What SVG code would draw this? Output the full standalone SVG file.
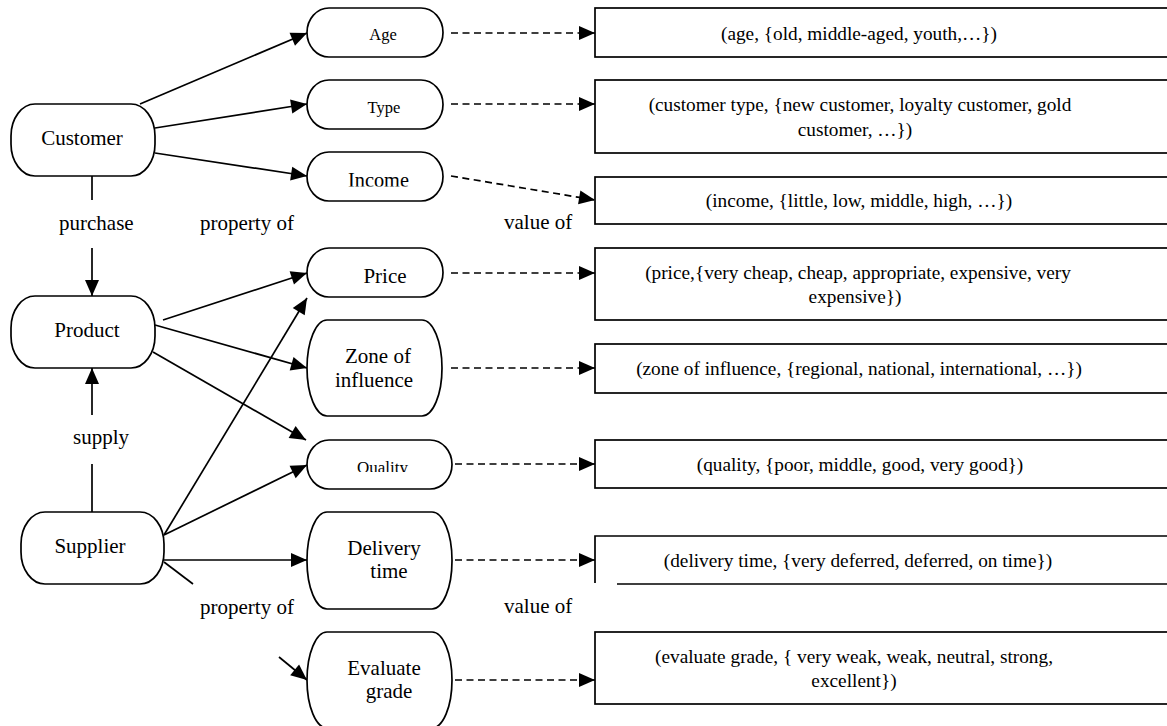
<svg xmlns="http://www.w3.org/2000/svg" width="1167" height="726" viewBox="0 0 1167 726">
<style>
text{font-family:"Liberation Serif","Times New Roman",serif;fill:#000}
.n{fill:#fff;stroke:#000;stroke-width:1.7}
.lbl{font-size:21px}
.sm{font-size:16.5px}
.val{font-size:19.3px;text-anchor:middle}
.c{text-anchor:middle}
.ln{fill:none;stroke:#000;stroke-width:1.7}
.arr{marker-end:url(#ah)}
.dash{stroke-dasharray:7 4.5}
</style>
<defs>
<marker id="ah" markerUnits="userSpaceOnUse" markerWidth="16" markerHeight="14" refX="16" refY="7" orient="auto" overflow="visible">
<path d="M0,0 L16,7 L0,14 Z" fill="#000" stroke="none"/>
</marker>
<clipPath id="clipInc"><rect x="300" y="150" width="150" height="36.5"/></clipPath>
<clipPath id="clipQual"><rect x="300" y="438" width="160" height="34"/></clipPath>
</defs>

<g id="connectors">
<line class="ln arr" x1="140" y1="104" x2="307" y2="33"/>
<line class="ln arr" x1="155" y1="128" x2="307" y2="104"/>
<line class="ln arr" x1="155" y1="153" x2="307" y2="176"/>
<line class="ln" x1="92" y1="176" x2="92" y2="200"/>
<line class="ln arr" x1="92" y1="248" x2="92" y2="296"/>
<line class="ln arr" x1="92" y1="415" x2="92" y2="368"/>
<line class="ln" x1="92" y1="464" x2="92" y2="512"/>
<line class="ln arr" x1="163" y1="320" x2="307" y2="273"/>
<line class="ln arr" x1="155" y1="325" x2="307" y2="368"/>
<line class="ln arr" x1="153" y1="352" x2="306" y2="440"/>
<line class="ln arr" x1="164" y1="535" x2="307" y2="298"/>
<line class="ln arr" x1="164" y1="535" x2="307" y2="465"/>
<line class="ln arr" x1="164" y1="560" x2="307" y2="560"/>
<line class="ln" x1="164" y1="562" x2="193" y2="584"/>
<line class="ln arr" x1="279" y1="657" x2="307" y2="680"/>
<line class="ln arr dash" x1="451" y1="33" x2="595" y2="33"/>
<line class="ln arr dash" x1="451" y1="104" x2="595" y2="104"/>
<line class="ln arr dash" x1="451" y1="176" x2="595" y2="200"/>
<line class="ln arr dash" x1="451" y1="273" x2="595" y2="273"/>
<line class="ln arr dash" x1="451" y1="368" x2="595" y2="368"/>
<line class="ln arr dash" x1="455" y1="464" x2="595" y2="464"/>
<line class="ln arr dash" x1="455" y1="560" x2="595" y2="560"/>
<line class="ln arr dash" x1="455" y1="680" x2="595" y2="680"/>
<text class="lbl" x="59" y="230">purchase</text>
<text class="lbl" x="200" y="230">property of</text>
<text class="lbl" x="504" y="229">value of</text>
<text class="lbl" x="73" y="444">supply</text>
<text class="lbl" x="200" y="614">property of</text>
<text class="lbl" x="504" y="613">value of</text>
</g>

<g id="customer">
<rect class="n" x="11" y="104" width="144" height="72" rx="24" ry="32"/>
<text class="lbl c" x="82" y="145">Customer</text>
</g>
<g id="product">
<rect class="n" x="11" y="296" width="144" height="72" rx="24" ry="32"/>
<text class="lbl c" x="87" y="337">Product</text>
</g>
<g id="supplier">
<rect class="n" x="21" y="512" width="143" height="72" rx="24" ry="32"/>
<text class="lbl c" x="90" y="553">Supplier</text>
</g>

<g id="age">
<rect class="n" x="307" y="8" width="136" height="49" rx="22" ry="24.5"/>
<text class="sm c" x="383" y="40">Age</text>
</g>
<g id="type">
<rect class="n" x="307" y="80" width="136" height="49" rx="22" ry="24.5"/>
<text class="sm c" x="384" y="113">Type</text>
</g>
<g id="income">
<rect class="n" x="307" y="152" width="136" height="49" rx="22" ry="24.5"/>
<text class="c" style="font-size:20.3px" x="378.5" y="187" clip-path="url(#clipInc)">Income</text>
</g>
<g id="price">
<rect class="n" x="307" y="248" width="136" height="49" rx="22" ry="24.5"/>
<text class="lbl c" x="385" y="283">Price</text>
</g>
<g id="zone">
<rect class="n" x="307" y="320" width="135" height="96" rx="20" ry="48"/>
<text class="lbl c" x="378" y="363">Zone of</text>
<text class="lbl c" x="374" y="387">influence</text>
</g>
<g id="quality">
<rect class="n" x="307" y="440" width="145" height="49" rx="22" ry="24.5"/>
<text class="c" style="font-size:17px" x="382.5" y="472.5" clip-path="url(#clipQual)">Quality</text>
</g>
<g id="delivery">
<rect class="n" x="307" y="512" width="145" height="97" rx="20" ry="48"/>
<text class="lbl c" x="384" y="555">Delivery</text>
<text class="lbl c" x="389" y="578">time</text>
</g>
<g id="evaluate">
<rect class="n" x="307" y="632" width="145" height="96" rx="20" ry="48"/>
<text class="lbl c" x="384" y="675">Evaluate</text>
<text class="lbl c" x="389" y="698">grade</text>
</g>

<g id="v-age">
<rect class="n" x="595" y="8" width="600" height="49"/>
<text class="val" x="859" y="40">(age, {old, middle-aged, youth,…})</text>
</g>
<g id="v-type">
<rect class="n" x="595" y="80" width="600" height="73"/>
<text class="val" x="860" y="111">(customer type, {new customer, loyalty customer, gold</text>
<text class="val" x="855" y="136">customer, …})</text>
</g>
<g id="v-income">
<rect class="n" x="595" y="177" width="600" height="47"/>
<text class="val" x="859" y="207">(income, {little, low, middle, high, …})</text>
</g>
<g id="v-price">
<rect class="n" x="595" y="248" width="600" height="72"/>
<text class="val" x="858" y="279">(price,{very cheap, cheap, appropriate, expensive, very</text>
<text class="val" x="855" y="303">expensive})</text>
</g>
<g id="v-zone">
<rect class="n" x="595" y="344" width="600" height="49"/>
<text class="val" x="859" y="375">(zone of influence, {regional, national, international, …})</text>
</g>
<g id="v-quality">
<rect class="n" x="595" y="440" width="600" height="48"/>
<text class="val" x="860" y="471">(quality, {poor, middle, good, very good})</text>
</g>
<g id="v-delivery">
<path class="n" d="M595,583 V536 H1195 V584 H617"/>
<text class="val" x="858" y="567">(delivery time, {very deferred, deferred, on time})</text>
</g>
<g id="v-evaluate">
<rect class="n" x="595" y="632" width="600" height="72"/>
<text class="val" x="854" y="663">(evaluate grade, { very weak, weak, neutral, strong,</text>
<text class="val" x="854" y="687">excellent})</text>
</g>
</svg>
